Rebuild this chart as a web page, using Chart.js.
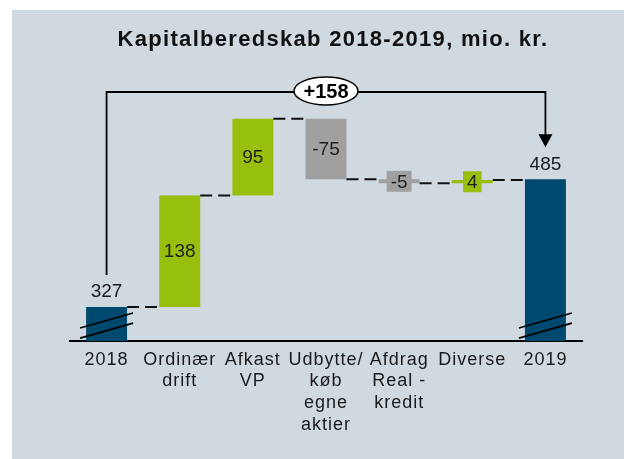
<!DOCTYPE html>
<html><head><meta charset="utf-8">
<script src="https://cdn.jsdelivr.net/npm/chart.js@4/dist/chart.umd.min.js"></script>
<style>html,body{margin:0;padding:0;background:#fff}canvas{display:block}</style>
</head><body>
<canvas id="c" width="624" height="459" style="width:624px;height:459px"></canvas>
<script>
// ---- data ----
const categories = [['2018'], ['Ordinær', 'drift'], ['Afkast', 'VP'], ['Udbytte/', 'køb', 'egne', 'aktier'], ['Afdrag', 'Real -', 'kredit'], ['Diverse'], ['2019']];
const startValue = 327;
const changes = [138, 95, -75, -5, 4];
const endValue = 485;
const totalChangeLabel = '+158';
const axisMin = 285;
const axisMax = 593;
const chartTitle = 'Kapitalberedskab 2018-2019, mio. kr.';

// ---- build floating bars ----
const ranges = [];
const barLabels = [];
const kinds = [];
ranges.push([axisMin, startValue]); barLabels.push(String(startValue)); kinds.push('total');
let run = startValue;
changes.forEach(d => {
  ranges.push([run, run + d]);
  run += d;
  barLabels.push(String(d));
  kinds.push(d >= 0 ? 'up' : 'down');
});
ranges.push([axisMin, endValue]); barLabels.push(String(endValue)); kinds.push('total');

const colorOf = { total: '#00496e', up: '#97bf0d', down: '#a0a0a0' };
const FONT = '"Liberation Sans", Arial, sans-serif';

const deco = {
  id: 'deco',
  beforeDraw(chart) {
    const ctx = chart.ctx;
    ctx.save();
    ctx.fillStyle = '#fff';
    ctx.fillRect(0, 0, chart.width, chart.height);
    ctx.fillStyle = '#d0d8e0';
    ctx.fillRect(12, 10, chart.width - 12, chart.height - 10);
    ctx.fillStyle = '#111';
    ctx.font = 'bold 22px ' + FONT;
    ctx.letterSpacing = '1.3px';
    ctx.textAlign = 'center';
    ctx.textBaseline = 'alphabetic';
    ctx.fillText(chartTitle, 333, 46);
    ctx.restore();
    ctx.letterSpacing = '1px';
  },
  afterDatasetsDraw(chart) {
    const ctx = chart.ctx;
    const bars = chart.getDatasetMeta(0).data;
    const ys = chart.scales.y;
    const area = chart.chartArea;
    ctx.save();
    ctx.letterSpacing = '0px';

    // connectors
    ctx.strokeStyle = '#111';
    ctx.lineWidth = 2;
    ctx.setLineDash([12, 6]);
    for (let i = 0; i < bars.length - 1; i++) {
      const b = bars[i], n = bars[i + 1];
      const y = ys.getPixelForValue(ranges[i][1]);
      ctx.beginPath();
      ctx.moveTo(b.x + b.width / 2, y);
      ctx.lineTo(n.x - n.width / 2, y);
      ctx.stroke();
    }
    ctx.setLineDash([]);

    // axis break marks on total bars
    ctx.lineWidth = 1.8;
    ctx.strokeStyle = '#000';
    bars.forEach((b, i) => {
      if (kinds[i] !== 'total') return;
      const half = b.width / 2 + 6, slope = 15 / 53;
      [20.5, 10.3].forEach(off => {
        const yc = area.bottom - off;
        ctx.beginPath();
        ctx.moveTo(b.x - half, yc + half * slope);
        ctx.lineTo(b.x + half, yc - half * slope);
        ctx.stroke();
      });
    });

    // value labels
    ctx.font = '19px ' + FONT;
    ctx.textAlign = 'center';
    ctx.textBaseline = 'middle';
    bars.forEach((b, i) => {
      const txt = barLabels[i];
      if (kinds[i] === 'total') {
        ctx.fillStyle = '#1a1a1a';
        ctx.fillText(txt, b.x, Math.min(b.y, b.base) - 15);
        return;
      }
      const cy = (b.y + b.base) / 2;
      if (Math.abs(b.base - b.y) < 20) {
        const w = ctx.measureText(txt).width + 8;
        const h = 21;
        ctx.fillStyle = colorOf[kinds[i]];
        ctx.fillRect(b.x - w / 2, cy - h / 2, w, h);
      }
      ctx.fillStyle = '#1f1f1f';
      ctx.fillText(txt, b.x, cy + 1);
    });

    // bracket arrow with total change
    const L = bars[0], R = bars[bars.length - 1];
    const topY = area.top;
    ctx.strokeStyle = '#000';
    ctx.lineWidth = 1.8;
    ctx.beginPath();
    ctx.moveTo(L.x, L.y - 32);
    ctx.lineTo(L.x, topY);
    ctx.lineTo(R.x, topY);
    ctx.lineTo(R.x, R.y - 44);
    ctx.stroke();
    ctx.fillStyle = '#000';
    ctx.beginPath();
    ctx.moveTo(R.x - 7, R.y - 45);
    ctx.lineTo(R.x + 7, R.y - 45);
    ctx.lineTo(R.x, R.y - 32);
    ctx.closePath();
    ctx.fill();

    const ex = (area.left + area.right) / 2;
    ctx.beginPath();
    ctx.ellipse(ex, topY - 1, 32, 14, 0, 0, Math.PI * 2);
    ctx.fillStyle = '#fff';
    ctx.fill();
    ctx.lineWidth = 1.5;
    ctx.stroke();
    ctx.fillStyle = '#000';
    ctx.font = 'bold 20px ' + FONT;
    ctx.fillText(totalChangeLabel, ex, topY);
    ctx.restore();
  }
};

new Chart(document.getElementById('c'), {
  type: 'bar',
  data: {
    labels: categories,
    datasets: [{
      data: ranges,
      backgroundColor: kinds.map(k => colorOf[k]),
      borderWidth: 0,
      barPercentage: 0.56,
      categoryPercentage: 1
    }]
  },
  options: {
    responsive: false,
    animation: false,
    events: [],
    layout: { padding: { left: 70, right: 42, top: 92, bottom: 0 } },
    plugins: { legend: { display: false }, tooltip: { enabled: false }, title: { display: false } },
    scales: {
      x: {
        grid: { display: false, drawTicks: false },
        border: { display: true, color: '#000', width: 2 },
        ticks: {
          color: '#1a1a1a',
          font: { family: FONT, size: 18, lineHeight: 1.2 },
          padding: 8,
          maxRotation: 0,
          autoSkip: false
        },
        afterFit: s => { s.height = 118; }
      },
      y: { display: false, min: axisMin, max: axisMax }
    }
  },
  plugins: [deco]
});
</script>
</body></html>
